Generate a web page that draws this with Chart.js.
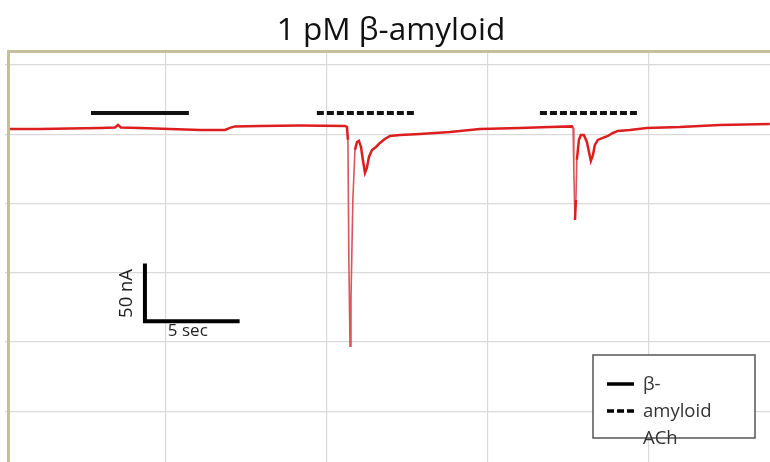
<!DOCTYPE html>
<html>
<head>
<meta charset="utf-8">
<script src="https://cdn.jsdelivr.net/npm/chart.js@4"></script>
<style>
  html, body { margin: 0; padding: 0; background: #fff; overflow: hidden; }
</style>
</head>
<body>
<canvas id="traceChart" width="770" height="462"></canvas>
<script>
// time in sec, current in nA
const traceTime = [0.26, 1.85, 3.43, 5.02, 5.81, 5.97, 6.12, 7.13, 8.71, 10.30, 11.62, 11.88, 12.14, 13.46, 15.58, 17.95, 18.06,
  18.11, 18.16, 18.22, 18.27, 18.37, 18.48, 18.59, 18.69, 18.80, 18.90, 19.01, 19.11, 19.22, 19.38, 19.59, 19.80, 20.06, 20.33,
  20.86, 21.91, 23.50, 25.08, 27.19, 28.78, 29.94, 30.00,
  30.04, 30.10, 30.15, 30.20, 30.31, 30.41, 30.57, 30.73, 30.84, 30.94, 31.05, 31.15, 31.31, 31.57, 31.84, 32.10, 32.37,
  33.00, 33.90, 35.64, 37.75, 40.39];
const traceCurrent = [4.5, 4.5, 4.9, 5.4, 5.8, 8.0, 5.8, 5.4, 4.5, 3.6, 3.6, 5.4, 6.7, 7.1, 7.5, 7.1, 6.2,
  -5.0, -109.1, -183.7, -143.8, -57.4, -13.7, -6.8, -5.8, -11.1, -22.4, -33.5, -29.3, -19.8, -13.7, -11.1, -7.6, -4.2, -1.6,
  -0.7, 0.2, 1.9, 4.5, 5.4, 6.2, 6.7, 5.4,
  -31.0, -74.4, -57.1, -22.4, -5.0, -0.7, -0.7, -6.8, -15.4, -23.2, -18.0, -9.4, -5.0, -3.3, -1.6, 1.0, 2.8,
  3.6, 5.4, 6.2, 8.0, 8.8];

// application markers (start, end in sec) and their level in nA
const amyloidOn = [4.54, 9.71];
const achOn1 = [16.47, 21.65];
const achOn2 = [28.25, 33.42];
const markerLevel = 18.4;

// scale bar: 50 nA / 5 sec
const scaleBarTime = [7.39, 7.39, 12.39];
const scaleBarCurrent = [-112, -162, -162];

// grid positions
const xGrid = [8.5, 17, 25.5, 34];
const yGrid = [60, 0, -60, -120, -180, -240];

const FONT = "'Open Sans', sans-serif";

const toPts = (xs, ys) => xs.map((x, i) => ({ x, y: ys[i] }));
const barPts = (on) => on.map((x) => ({ x, y: markerLevel }));

const decor = {
  id: "decor",
  beforeDatasetsDraw(chart) {
    const { ctx, chartArea } = chart;
    ctx.save();
    // frame (top + left, rest is cropped)
    ctx.strokeStyle = "#c6bf9b";
    ctx.lineWidth = 3;
    ctx.beginPath();
    ctx.moveTo(chartArea.left + 3.5, chartArea.bottom);
    ctx.lineTo(chartArea.left + 3.5, chartArea.top + 0.5);
    ctx.lineTo(chartArea.right, chartArea.top + 0.5);
    ctx.stroke();
    ctx.restore();
  },
  afterDraw(chart) {
    const { ctx } = chart;
    const xs = chart.scales.x;
    const ys = chart.scales.y;
    ctx.save();
    // title
    ctx.fillStyle = "#111";
    ctx.font = "31.5px " + FONT;
    ctx.textAlign = "center";
    ctx.textBaseline = "alphabetic";
    ctx.fillText("1 pM \u03B2-amyloid", 391, 40);

    // scale bar labels
    ctx.font = "17px " + FONT;
    ctx.fillStyle = "#222";
    ctx.textAlign = "left";
    ctx.fillText("5 sec", xs.getPixelForValue(8.6), ys.getPixelForValue(-175));
    ctx.translate(xs.getPixelForValue(6.72), ys.getPixelForValue(-138));
    ctx.rotate(-Math.PI / 2);
    ctx.textAlign = "center";
    ctx.font = "18.5px " + FONT;
    ctx.fillText("50 nA", 0, 0);
    ctx.restore();

    // legend box
    ctx.save();
    ctx.strokeStyle = "#555";
    ctx.lineWidth = 1.5;
    ctx.fillStyle = "#fff";
    ctx.fillRect(593, 355, 162, 83);
    ctx.strokeRect(593, 355, 162, 83);
    ctx.strokeStyle = "#000";
    ctx.lineWidth = 3.5;
    ctx.beginPath();
    ctx.moveTo(607, 384);
    ctx.lineTo(634, 384);
    ctx.stroke();
    ctx.setLineDash([7, 3]);
    ctx.beginPath();
    ctx.moveTo(607, 411);
    ctx.lineTo(636, 411);
    ctx.stroke();
    ctx.fillStyle = "#333";
    ctx.font = "18.5px " + FONT;
    ctx.textAlign = "left";
    ctx.fillText("\u03B2-", 643, 390);
    ctx.fillText("amyloid", 643, 417);
    ctx.fillText("ACh", 643, 444);
    ctx.restore();
  },
};

new Chart(document.getElementById("traceChart"), {
  type: "line",
  data: {
    datasets: [
      {
        label: "trace",
        data: toPts(traceTime, traceCurrent),
        borderColor: "#dc1e1e",
        borderWidth: 2.5,
        pointRadius: 0,
        tension: 0,
        segment: {
          borderWidth: (c) => (Math.abs(c.p1.parsed.y - c.p0.parsed.y) > 30 ? 1.6 : 2.5),
          borderColor: (c) => (Math.abs(c.p1.parsed.y - c.p0.parsed.y) > 30 ? "#d9555a" : "#dc1e1e"),
        },
      },
      { label: "amyloid", data: barPts(amyloidOn), borderColor: "#111", borderWidth: 4, pointRadius: 0 },
      { label: "ach1", data: barPts(achOn1), borderColor: "#111", borderWidth: 4, borderDash: [7, 3], pointRadius: 0 },
      { label: "ach2", data: barPts(achOn2), borderColor: "#111", borderWidth: 4, borderDash: [7, 3], pointRadius: 0 },
      {
        label: "scale",
        data: toPts(scaleBarTime, scaleBarCurrent),
        borderColor: "#000",
        borderWidth: 4,
        pointRadius: 0,
        borderCapStyle: "butt",
        borderJoinStyle: "miter",
      },
    ],
  },
  options: {
    responsive: false,
    animation: false,
    devicePixelRatio: 1,
    layout: { padding: { left: 5, top: 51, right: 0, bottom: 0 } },
    plugins: { legend: { display: false }, tooltip: { enabled: false } },
    scales: {
      x: {
        type: "linear",
        min: 0,
        max: 40.4,
        ticks: { display: false },
        grid: { color: "#d9d9d9", lineWidth: 1.2, drawTicks: false },
        border: { display: false },
        afterBuildTicks: (s) => { s.ticks = xGrid.map((v) => ({ value: v })); },
      },
      y: {
        type: "linear",
        min: -284,
        max: 72,
        ticks: { display: false },
        grid: { color: "#d9d9d9", lineWidth: 1.2, drawTicks: false },
        border: { display: false },
        afterBuildTicks: (s) => { s.ticks = yGrid.map((v) => ({ value: v })); },
      },
    },
  },
  plugins: [decor],
});
</script>
</body>
</html>
